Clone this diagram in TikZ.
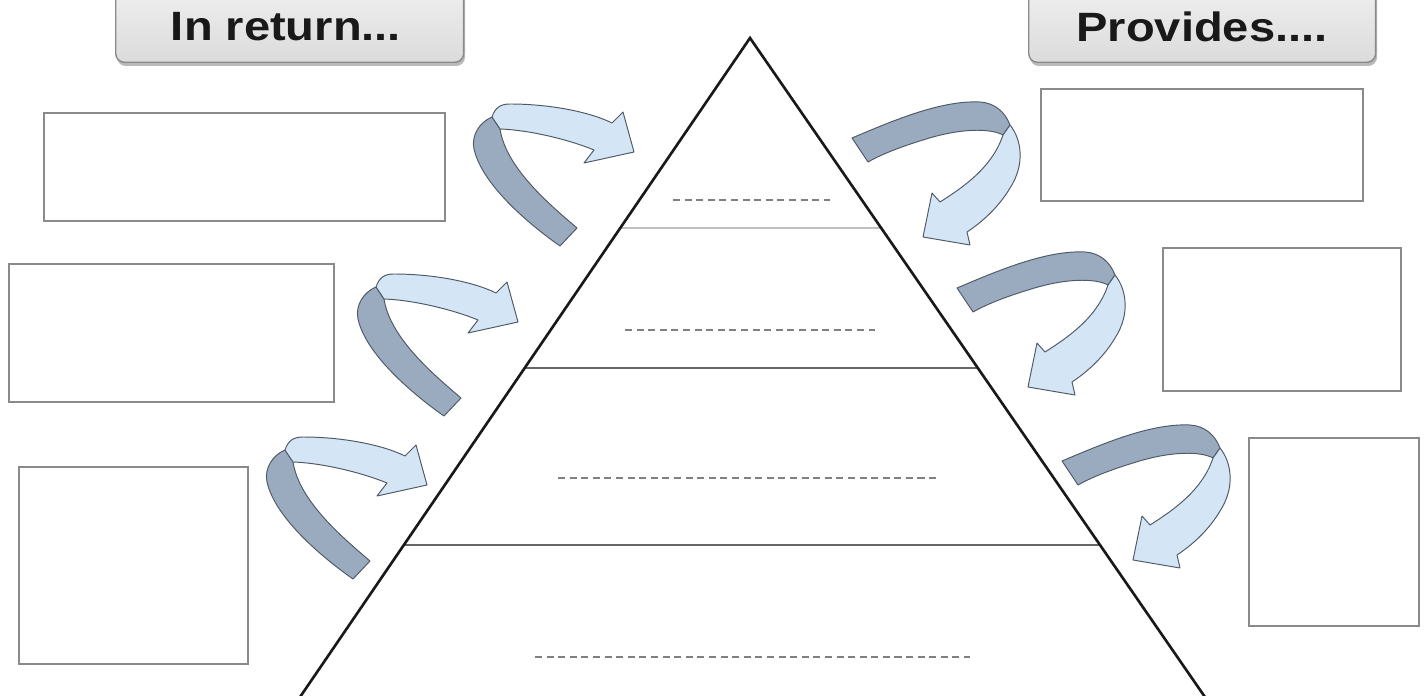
\documentclass[tikz,border=0pt]{standalone}
\usepackage{fontspec}
\usepackage{graphicx}
\newfontfamily\hdrfont{Liberation Sans}
\definecolor{darkband}{HTML}{9AABC0}
\definecolor{lightband}{HTML}{D4E5F5}
\definecolor{bandline}{HTML}{4F5A66}
\definecolor{boxline}{HTML}{8A8A8A}
\tikzset{
  blankbox/.style={draw=boxline, line width=1.3pt, fill=white},
  hdrbox/.style={draw=boxline, line width=0.8pt, rounded corners=5pt, top color=gray!12, bottom color=gray!28},
  hdrshadow/.style={fill=gray!55, rounded corners=5pt},
  hdrtext/.style={font=\hdrfont\bfseries\fontsize{23.3}{28}\selectfont, text=black!90, inner sep=0pt},
  pyrline/.style={line width=1.5pt, black!90},
  tierline/.style={line width=0.9pt, black!60},
  toptier/.style={line width=1.6pt, black!25},
  dashline/.style={line width=0.8pt, black!50, dash pattern=on 4pt off 2.6pt},
  bandfill/.style={draw=bandline, line width=0.55pt, line join=round},
  larrow/.pic={
    \path[bandfill, fill=darkband] (492,117) .. controls (480,122) and (471,135) .. (474,149)
      .. controls (482,185) and (530,225) .. (560,246) -- (577,228)
      .. controls (550,205) and (506,168) .. (500,129) -- cycle;
    \path[bandfill, fill=lightband] (492,117) .. controls (495,108) and (500,104) .. (510,104)
      .. controls (550,104) and (590,112) .. (612,123) -- (623,112) -- (634,152) -- (584,163) -- (594,150)
      .. controls (570,140) and (530,130) .. (500,129) -- cycle;
  },
  rarrow/.pic={
    \path[bandfill, fill=darkband] (852,138) .. controls (890,122) and (940,100) .. (980,102)
      .. controls (995,103) and (1005,112) .. (1010,125) -- (1003,135)
      .. controls (990,128) and (960,128) .. (923,140)
      .. controls (900,147) and (880,155) .. (868,162) -- cycle;
    \path[bandfill, fill=lightband] (1010,125) .. controls (1022,140) and (1025,165) .. (1010,188)
      .. controls (1000,205) and (985,220) .. (967,232) -- (970,245) -- (923,237) -- (932,193) -- (940,202)
      .. controls (962,188) and (992,168) .. (1003,135) -- cycle;
  }
}
\begin{document}
\begin{tikzpicture}[x=0.02cm, y=-0.02cm]
\useasboundingbox (0,0) rectangle (1426,696);
\fill[white] (0,0) rectangle (1426,696);

% header boxes
\fill[hdrshadow] (117,-15) rectangle (465,66);
\node[hdrbox, minimum width=6.96cm, minimum height=1.56cm, anchor=south west] (hl) at (115,63) {};
\node[hdrtext] (hlt) at (286,27) {\scalebox{1.15}[1]{In return...}};
\fill[hdrshadow] (1030,-15) rectangle (1377,66);
\node[hdrbox, minimum width=6.94cm, minimum height=1.56cm, anchor=south west] (hr) at (1028,63) {};
\node[hdrtext] (hrt) at (1202,27) {\scalebox{1.15}[1]{Provides....}};

% pyramid
\coordinate (apex) at (750,38);
\coordinate (bl) at (298,700);
\coordinate (br) at (1207,700);
\coordinate (t1l) at (620,228); \coordinate (t1r) at (881,228);
\coordinate (t2l) at (525,368); \coordinate (t2r) at (978,368);
\coordinate (t3l) at (404,545); \coordinate (t3r) at (1100,545);
\draw[toptier] (t1l) -- (t1r);
\draw[tierline] (t2l) -- (t2r);
\draw[tierline] (t3l) -- (t3r);
\draw[pyrline] (bl) -- (apex) -- (br);

% dashed lines
\coordinate (d1a) at (673,200); \coordinate (d1b) at (830,200);
\coordinate (d2a) at (625,330); \coordinate (d2b) at (875,330);
\coordinate (d3a) at (558,478); \coordinate (d3b) at (940,478);
\coordinate (d4a) at (535,657); \coordinate (d4b) at (970,657);
\draw[dashline] (d1a) -- (d1b);
\draw[dashline] (d2a) -- (d2b);
\draw[dashline] (d3a) -- (d3b);
\draw[dashline] (d4a) -- (d4b);

% blank boxes
\node[blankbox, minimum width=8.02cm, minimum height=2.16cm, anchor=north west] (b1) at (43,112) {};
\node[blankbox, minimum width=6.5cm, minimum height=2.76cm, anchor=north west] (b2) at (8,263) {};
\node[blankbox, minimum width=4.58cm, minimum height=3.94cm, anchor=north west] (b3) at (18,466) {};
\node[blankbox, minimum width=6.44cm, minimum height=2.24cm, anchor=north west] (b4) at (1040,88) {};
\node[blankbox, minimum width=4.76cm, minimum height=2.86cm, anchor=north west] (b5) at (1162,247) {};
\node[blankbox, minimum width=3.4cm, minimum height=3.76cm, anchor=north west] (b6) at (1248,437) {};

% curved arrows
\pic (la1) at (0,0) {larrow};
\pic (la2) at (-116,170) {larrow};
\pic (la3) at (-207,333) {larrow};
\pic (ra1) at (0,0) {rarrow};
\pic (ra2) at (105,150) {rarrow};
\pic (ra3) at (210,323) {rarrow};
\end{tikzpicture}
\end{document}
